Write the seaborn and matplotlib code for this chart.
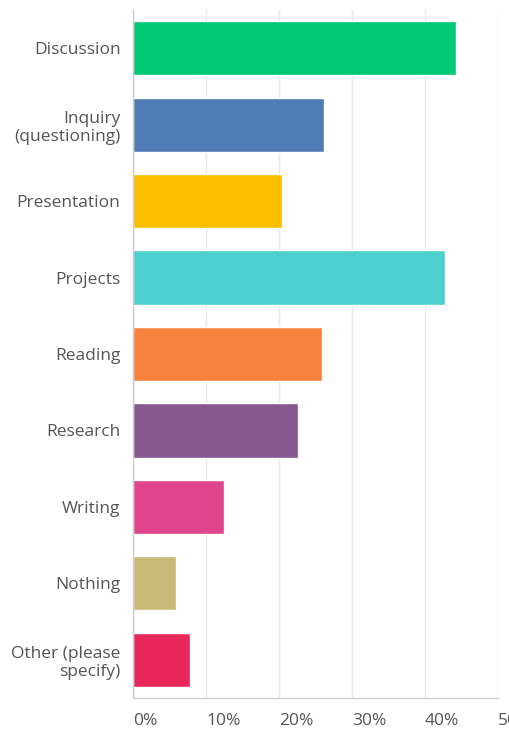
import seaborn as sns
import pandas as pd
from matplotlib import pyplot as plt
from matplotlib.ticker import FuncFormatter

categories = ["Discussion", "Inquiry\n(questioning)", "Presentation", "Projects",
              "Reading", "Research", "Writing", "Nothing", "Other (please\nspecify)"]
percents = [44.3, 26.2, 20.4, 42.8, 25.9, 22.6, 12.4, 5.9, 7.8]
colors = ["#00c875", "#507cb6", "#f9be00", "#4ccfce", "#f7823f",
          "#87578f", "#e0458c", "#c9ba7a", "#e8285a"]
x_ticks = [0, 10, 20, 30, 40, 50]

df = pd.DataFrame({"category": categories, "percent": percents})

sns.set_style("white")
plt.rcParams['font.family'] = ['Open Sans', 'DejaVu Sans']

fig = plt.figure(figsize=(5.10, 7.34), dpi=100)
ax = fig.add_axes([133 / 510, 36 / 734, 365 / 510, 688 / 734])

sns.barplot(data=df, y="category", x="percent", hue="category",
            palette=colors, legend=False, width=0.71, saturation=1, ax=ax)

ax.set_xlim(0, 50)
ax.set_ylim(len(categories) - 0.5, -0.5)
ax.set_xticks(x_ticks)
ax.xaxis.set_major_formatter(FuncFormatter(lambda v, p: f"{int(v)}%"))
ax.grid(axis="x", color="#e8e8e8", linewidth=1)
ax.set_axisbelow(True)
ax.set_xlabel("")
ax.set_ylabel("")

for s in ["top", "right"]:
    ax.spines[s].set_visible(False)
for s in ["left", "bottom"]:
    ax.spines[s].set_color("#cccccc")
    ax.spines[s].set_linewidth(1)

ax.tick_params(axis="y", length=0, pad=9, labelsize=12.5, labelcolor="#555555")
ax.tick_params(axis="x", length=0, pad=11, labelsize=12.5, labelcolor="#555555")
for lbl in ax.get_xticklabels():
    lbl.set_horizontalalignment("left")
for lbl in ax.get_yticklabels():
    lbl.set_multialignment("right")

fig.savefig("out.png", dpi=100)
